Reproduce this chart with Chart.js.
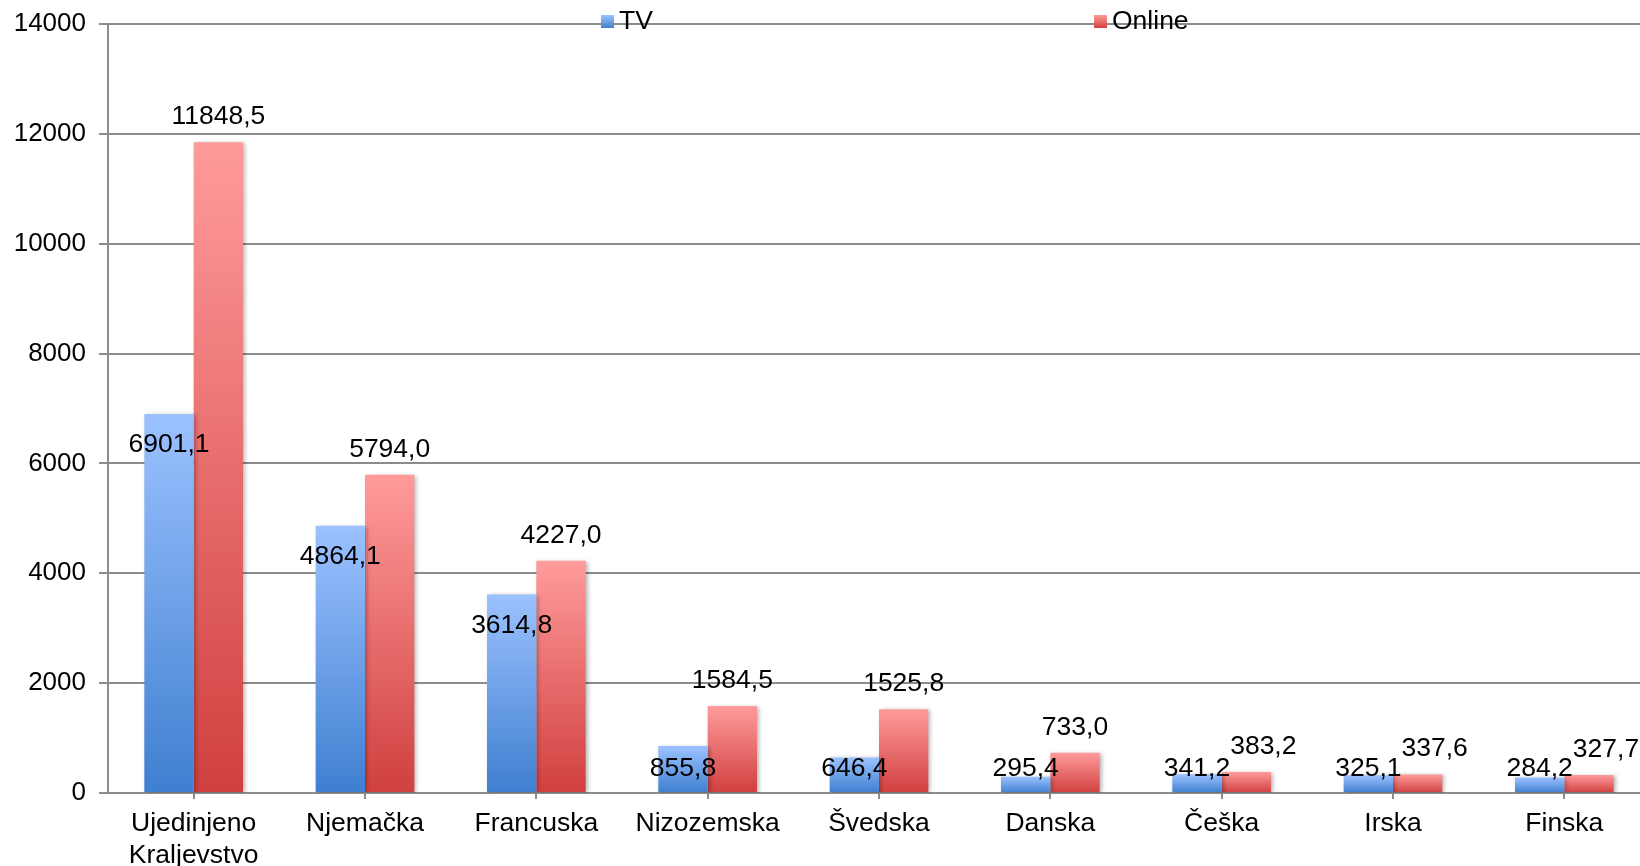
<!DOCTYPE html>
<html>
<head>
<meta charset="utf-8">
<script src="https://cdn.jsdelivr.net/npm/chart.js@4/dist/chart.umd.min.js"></script>
<style>
  html, body { margin: 0; padding: 0; background: #ffffff; overflow: hidden; }
  #wrap { position: relative; width: 1650px; height: 866px; }
</style>
</head>
<body>
<div id="wrap"><canvas id="chart"></canvas></div>
<script>
// Categories and series values
const countries = [['Ujedinjeno', 'Kraljevstvo'], 'Njemačka', 'Francuska', 'Nizozemska', 'Švedska', 'Danska', 'Češka', 'Irska', 'Finska'];
const tvValues = [6901.1, 4864.1, 3614.8, 855.8, 646.4, 295.4, 341.2, 325.1, 284.2];
const onlineValues = [11848.5, 5794.0, 4227.0, 1584.5, 1525.8, 733.0, 383.2, 337.6, 327.7];
const seriesNames = ['TV', 'Online'];
const yTickValues = [0, 2000, 4000, 6000, 8000, 10000, 12000, 14000];

const FONT = '"Liberation Sans", Arial, sans-serif';
const LABEL_SIZE = 26.5;
const GRID = '#8c8c8c';
const tvStops = ['#9cc2ff', '#3f7fd0'];
const onlineStops = ['#ff9b9b', '#d0403f'];

// Vertical gradient running from the top of each bar down to its base
function barGradient(stops) {
  return (ctx) => {
    const chart = ctx.chart;
    if (!chart.chartArea || ctx.type !== 'data') return stops[1];
    const y = chart.scales.y;
    const top = y.getPixelForValue(ctx.parsed.y);
    const base = y.getPixelForValue(0);
    const g = chart.ctx.createLinearGradient(0, top, 0, Math.max(base, top + 1));
    g.addColorStop(0, stops[0]);
    g.addColorStop(1, stops[1]);
    return g;
  };
}

const fmt = (v) => v.toFixed(1).replace('.', ',');

// Soft shadow under the bars
const barShadow = {
  id: 'barShadow',
  beforeDatasetDraw(chart) {
    const c = chart.ctx;
    c.save();
    c.shadowColor = 'rgba(0,0,0,0.28)';
    c.shadowBlur = 4;
    c.shadowOffsetX = 2;
    c.shadowOffsetY = 1;
  },
  afterDatasetDraw(chart) {
    chart.ctx.restore();
  }
};

// Value labels: TV inside the bar top, Online above the bar
const valueLabels = {
  id: 'valueLabels',
  afterDatasetsDraw(chart) {
    const c = chart.ctx;
    const tvMeta = chart.getDatasetMeta(0);
    const onMeta = chart.getDatasetMeta(1);
    const halfH = 13;
    c.save();
    c.font = LABEL_SIZE + 'px ' + FONT;
    c.fillStyle = '#000';
    c.textBaseline = 'middle';
    c.textAlign = 'center';
    tvMeta.data.forEach((bar, i) => {
      const tvText = fmt(tvValues[i]);
      const tvW = c.measureText(tvText).width;
      const tvY = Math.min(bar.y + 31, bar.base - 23.5);
      c.fillText(tvText, bar.x, tvY);

      const ob = onMeta.data[i];
      const onText = fmt(onlineValues[i]);
      const onW = c.measureText(onText).width;
      const onY = ob.y - 25.5;
      let onX = ob.x;
      const overlapV = (onY + halfH) > (tvY - halfH);
      if (overlapV && onX - onW / 2 < bar.x + tvW / 2) {
        onX = bar.x + tvW / 2 + onW / 2;
      }
      c.fillText(onText, onX, onY);
    });
    c.restore();
  }
};

// Legend drawn across the top edge of the plot
const topLegend = {
  id: 'topLegend',
  afterDraw(chart) {
    const c = chart.ctx;
    const items = [
      { x: 601, stops: tvStops, text: seriesNames[0] },
      { x: 1094, stops: onlineStops, text: seriesNames[1] }
    ];
    c.save();
    c.font = LABEL_SIZE + 'px ' + FONT;
    c.textBaseline = 'middle';
    c.textAlign = 'left';
    items.forEach(it => {
      const g = c.createLinearGradient(0, 15, 0, 28);
      g.addColorStop(0, it.stops[0]);
      g.addColorStop(1, it.stops[1]);
      c.fillStyle = g;
      c.fillRect(it.x, 15, 13, 13);
      c.fillStyle = '#000';
      c.fillText(it.text, it.x + 18, 22);
    });
    c.restore();
  }
};

new Chart(document.getElementById('chart'), {
  type: 'bar',
  data: {
    labels: countries,
    datasets: [
      { label: seriesNames[0], data: tvValues, backgroundColor: barGradient(tvStops), borderWidth: 0 },
      { label: seriesNames[1], data: onlineValues, backgroundColor: barGradient(onlineStops), borderWidth: 0 }
    ]
  },
  options: {
    responsive: true,
    maintainAspectRatio: false,
    animation: false,
    devicePixelRatio: 1,
    layout: { padding: { top: 24, left: 0, right: 0, bottom: 0 } },
    datasets: { bar: { categoryPercentage: 0.576, barPercentage: 1.0 } },
    plugins: {
      legend: { display: false },
      tooltip: { enabled: false }
    },
    scales: {
      x: {
        offset: true,
        grid: { offset: false, drawOnChartArea: false, drawTicks: true, tickLength: 6, color: GRID, lineWidth: 2 },
        border: { color: GRID, width: 2 },
        ticks: {
          color: '#000', padding: 9, maxRotation: 0, autoSkip: false,
          font: { family: FONT, size: LABEL_SIZE, lineHeight: 1.2 }
        },
        afterFit(scale) { scale.height = 73; }
      },
      y: {
        min: 0, max: 14000,
        afterBuildTicks(scale) { scale.ticks = yTickValues.map(v => ({ value: v })); },
        grid: { color: GRID, lineWidth: 2, tickLength: 9, drawTicks: true },
        border: { color: GRID, width: 2 },
        ticks: {
          color: '#000', padding: 13,
          font: { family: FONT, size: 26 },
          callback: (v) => String(v)
        },
        afterFit(scale) {
          scale.width = 108;
          scale.paddingTop = 0;
          scale.paddingBottom = 0;
        }
      }
    }
  },
  plugins: [barShadow, valueLabels, topLegend]
});
</script>
</body>
</html>
